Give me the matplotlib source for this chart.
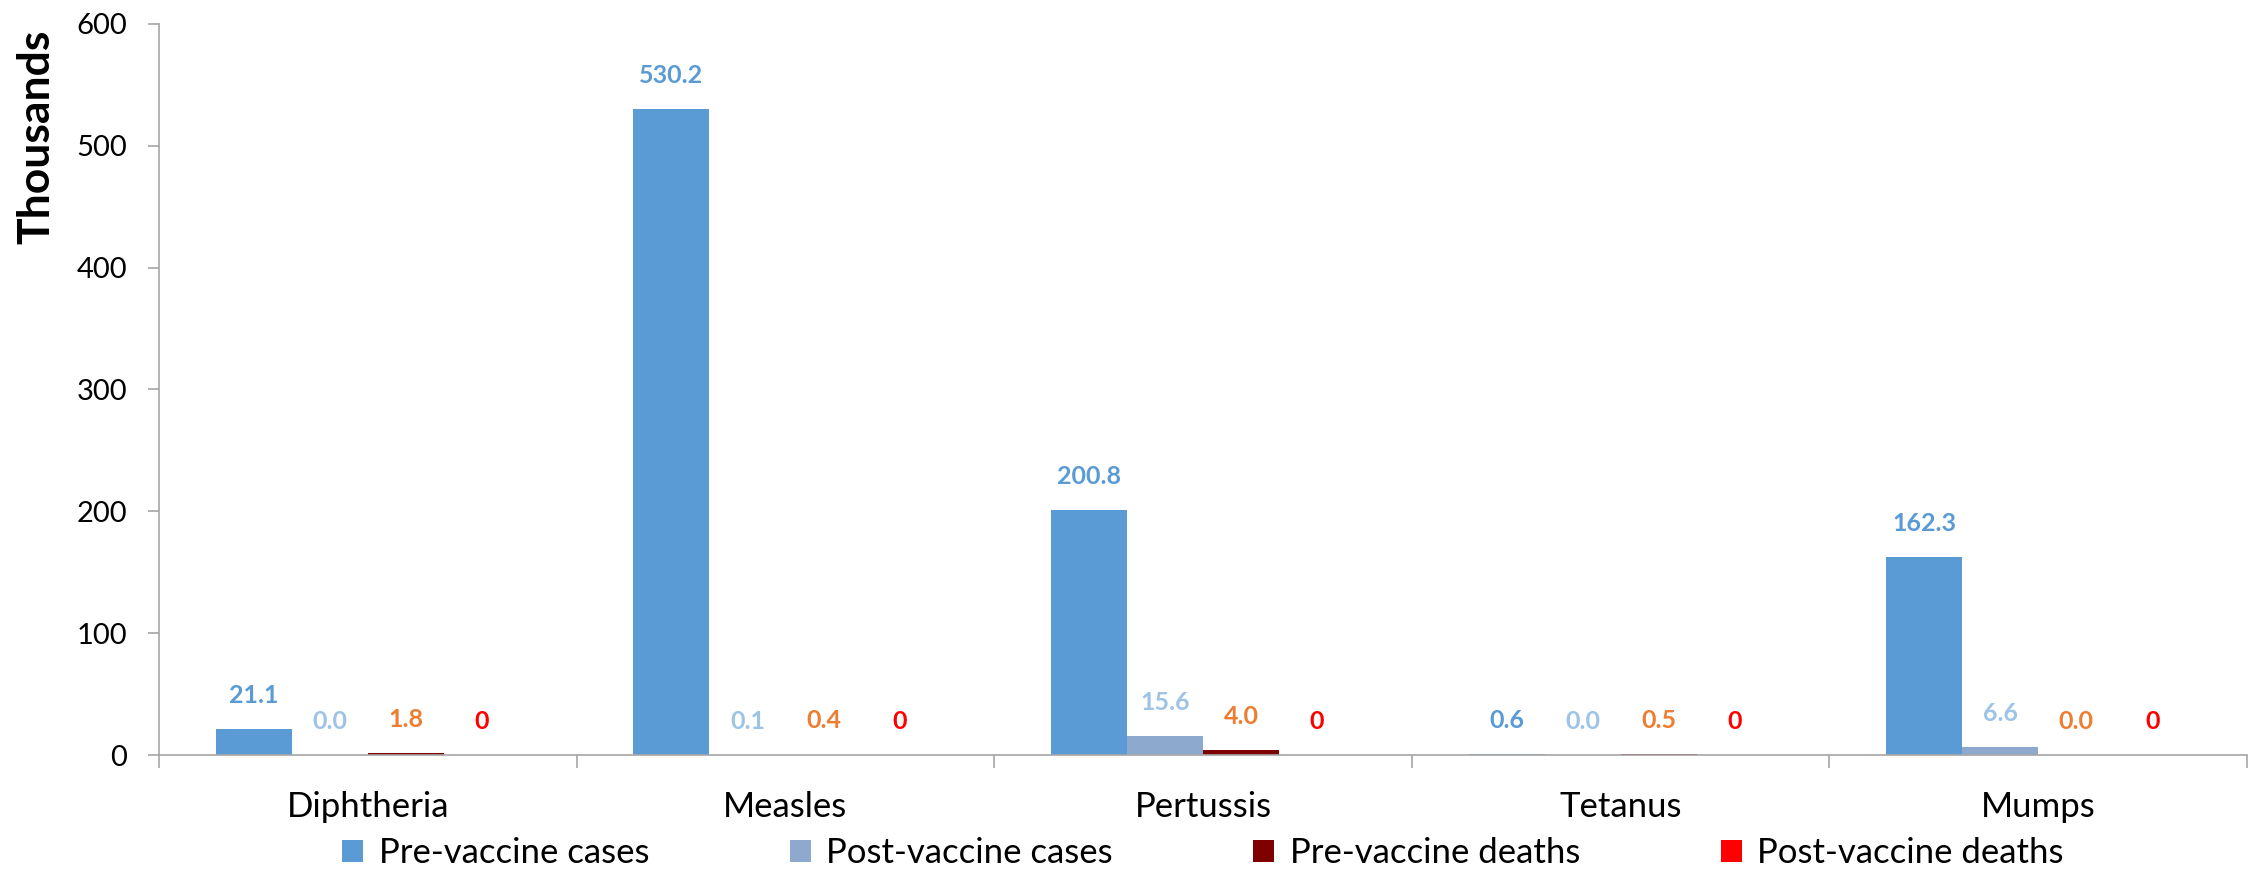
import numpy as np
import matplotlib
matplotlib.use('Agg')
from matplotlib import pyplot as plt
from matplotlib.patches import Patch

diseases = ["Diphtheria", "Measles", "Pertussis", "Tetanus", "Mumps"]
pre_cases = [21.1, 530.2, 200.8, 0.6, 162.3]
post_cases = [0.0, 0.1, 15.6, 0.0, 6.6]
pre_deaths = [1.8, 0.4, 4.0, 0.5, 0.0]
post_deaths = [0, 0, 0, 0, 0]

series_names = ["Pre-vaccine cases", "Post-vaccine cases",
                "Pre-vaccine deaths", "Post-vaccine deaths"]
bar_colors = ["#5B9BD5", "#8EA9CE", "#7F0000", "#FF0000"]
label_colors = ["#5B9BD5", "#9DC3E6", "#ED7D31", "#FF0000"]
label_formats = ["{:.1f}", "{:.1f}", "{:.1f}", "{:d}"]

plt.rcParams['font.family'] = ['Lato', 'DejaVu Sans']

fig = plt.figure(figsize=(22.54, 8.72), dpi=100)
ax = fig.add_axes([159 / 2254, 117 / 872, (2247 - 159) / 2254, (755 - 24) / 872])

x = np.arange(len(diseases))
width = 0.182
all_series = [pre_cases, post_cases, pre_deaths, post_deaths]

for j, values in enumerate(all_series):
    pos = x + (j - 1.5) * width
    ax.bar(pos, values, width, color=bar_colors[j], linewidth=0)
    for xp, v in zip(pos, values):
        ax.annotate(label_formats[j].format(v), (xp, v), xytext=(0, 16),
                    textcoords='offset points', ha='center', va='bottom',
                    fontsize=18, fontweight='bold', color=label_colors[j])

ax.set_xlim(-0.5, len(diseases) - 0.5)
ax.set_ylim(0, 600)
ax.set_yticks(range(0, 601, 100))
ax.set_xticks(x)
ax.set_xticklabels(diseases)
ax.set_xticks(np.arange(-0.5, len(diseases), 1.0), minor=True)

grey = "#A6A6A6"
for side in ["top", "right"]:
    ax.spines[side].set_visible(False)
for side in ["left", "bottom"]:
    ax.spines[side].set_color(grey)
    ax.spines[side].set_linewidth(1.2)

ax.tick_params(axis='y', length=8, width=1.2, color=grey, pad=15,
               labelsize=21, labelcolor='#000000')
ax.tick_params(axis='x', which='major', length=0, pad=26,
               labelsize=25, labelcolor='#000000')
ax.tick_params(axis='x', which='minor', length=9.5, width=1.2, color=grey)

ax.set_ylabel("Thousands", fontsize=32, fontweight='bold')
ax.yaxis.set_label_coords(-0.049, 0.845)

# legend sits centred under the plot area
handles = [Patch(facecolor=c, edgecolor='none') for c in bar_colors]
fig.legend(handles, series_names, loc='center', bbox_to_anchor=(1203 / 2254, 19 / 872),
           ncol=4, frameon=False, fontsize=25, handlelength=0.6, handleheight=0.6,
           handletextpad=0.45, columnspacing=4.05)

fig.savefig("out.png", dpi=100)
